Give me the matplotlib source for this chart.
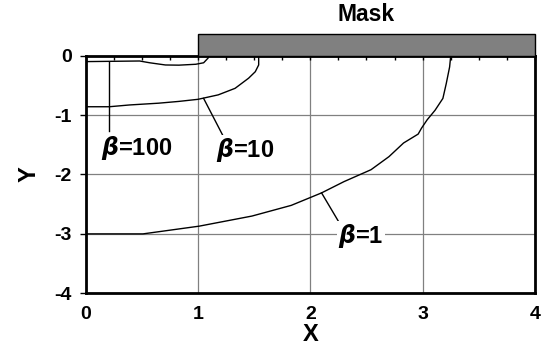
import numpy as np
import matplotlib
matplotlib.use("Agg")
import matplotlib.pyplot as plt
import matplotlib.ticker as tck
from matplotlib.patches import Rectangle

# contour data (x, y)
x_b100 = [0.01, 0.48, 0.57, 0.71, 0.83, 0.98, 1.05, 1.09, 1.10]
y_b100 = [-0.10, -0.09, -0.12, -0.157, -0.16, -0.145, -0.12, -0.04, 0.0]

x_b10 = [0.01, 0.21, 0.39, 0.65, 0.83, 1.00, 1.18, 1.33, 1.45, 1.51, 1.54, 1.54]
y_b10 = [-0.86, -0.86, -0.83, -0.80, -0.77, -0.735, -0.66, -0.55, -0.38, -0.27, -0.157, 0.0]

x_b1 = [0.01, 0.51, 1.01, 1.48, 1.83, 2.10, 2.30, 2.54, 2.70, 2.83, 2.96, 2.99,
        3.04, 3.11, 3.18, 3.21, 3.24, 3.25]
y_b1 = [-3.0, -3.0, -2.87, -2.70, -2.52, -2.31, -2.12, -1.92, -1.70, -1.47, -1.32,
        -1.22, -1.08, -0.92, -0.72, -0.47, -0.19, 0.0]

labels = [r'$\beta$=100', r'$\beta$=10', r'$\beta$=1']
label_pos = [(0.45, -1.56), (1.42, -1.59), (2.45, -3.04)]
leader_from = [(0.21, -0.10), (1.05, -0.72), (2.10, -2.31)]
leader_to = [(0.21, -1.27), (1.22, -1.34), (2.26, -2.82)]

mask_x = (1.0, 4.0)
mask_h = 0.365

xticks = [0, 1, 2, 3, 4]
yticks = [0, -1, -2, -3, -4]

plt.rcParams['font.family'] = ['Liberation Sans', 'DejaVu Sans']
plt.rcParams['font.weight'] = 'bold'
plt.rcParams['axes.unicode_minus'] = False

fig = plt.figure(figsize=(5.5, 3.5), dpi=100)
ax = fig.add_axes([0.1558, 0.162, 0.8169, 0.679])
ax.set_xlim(0, 4)
ax.set_ylim(-4, 0)

for s in ax.spines.values():
    s.set_linewidth(2.0)
    s.set_color('black')

ax.set_xticks(xticks)
ax.set_yticks(yticks)
ax.xaxis.set_minor_locator(tck.MultipleLocator(0.25))
ax.tick_params(axis='x', which='both', bottom=False, top=True, direction='in',
               length=3, width=1, labelsize=14, pad=9)
ax.tick_params(axis='y', which='major', left=True, direction='out',
               length=4, width=1, labelsize=14, pad=6)
for lab in ax.get_xticklabels() + ax.get_yticklabels():
    lab.set_fontweight('bold')

ax.grid(True, which='major', color='#808080', lw=0.9)
ax.set_axisbelow(True)

ax.plot(x_b100, y_b100, color='black', lw=1.0)
ax.plot(x_b10, y_b10, color='black', lw=1.0)
ax.plot(x_b1, y_b1, color='black', lw=1.0)

for txt, (tx, ty), p0, p1 in zip(labels, label_pos, leader_from, leader_to):
    ax.plot([p0[0], p1[0]], [p0[1], p1[1]], color='black', lw=1.0)
    ax.text(tx, ty, txt, fontsize=17, fontweight='bold', ha='center', va='center',
            bbox=dict(facecolor='white', edgecolor='none', pad=1))

ax.add_patch(Rectangle((mask_x[0], 0), mask_x[1] - mask_x[0], mask_h,
                       facecolor='#808080', edgecolor='black', lw=1.0,
                       clip_on=False, zorder=5))
ax.text(2.5, mask_h + 0.33, 'Mask', fontsize=16.5, fontweight='bold',
        ha='center', va='center')

ax.set_xlabel('X', fontsize=17, fontweight='bold', labelpad=0)
ax.set_ylabel('Y', fontsize=17, fontweight='bold', labelpad=10)

fig.savefig('out.png', dpi=100)
